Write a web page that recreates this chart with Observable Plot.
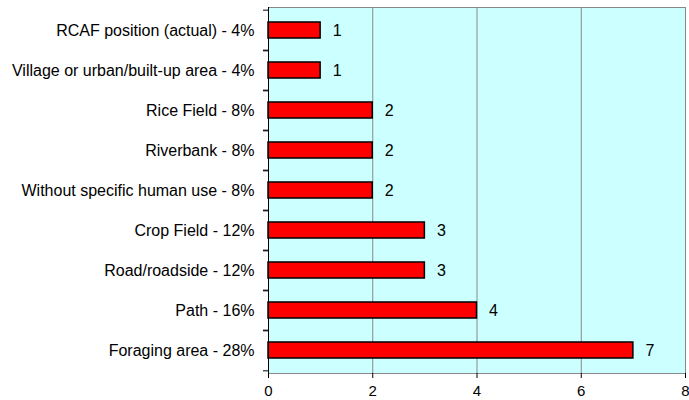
<!DOCTYPE html>
<html>
<head>
<meta charset="utf-8">
<script src="https://cdn.jsdelivr.net/npm/d3@7"></script>
<script src="https://cdn.jsdelivr.net/npm/@observablehq/plot@0.6"></script>
<style>
  html, body { margin: 0; padding: 0; background: #ffffff; }
  #chart { width: 689px; height: 400px; }
</style>
</head>
<body>
<div id="chart"></div>
<script>
const categories = [
  "RCAF position (actual) - 4%",
  "Village or urban/built-up area - 4%",
  "Rice Field - 8%",
  "Riverbank - 8%",
  "Without specific human use - 8%",
  "Crop Field - 12%",
  "Road/roadside - 12%",
  "Path - 16%",
  "Foraging area - 28%"
];
const values = [1, 1, 2, 2, 2, 3, 3, 4, 7];
const xTicks = [0, 2, 4, 6, 8];
const gridValues = [2, 4, 6];

const data = categories.map((c, i) => ({label: c, value: values[i]}));

const W = 689, H = 400;
const mTop = 7, mBottom = 27, mLeft = 268, mRight = 4;
const step = (H - mTop - mBottom) / categories.length;

const chart = Plot.plot({
  width: W,
  height: H,
  marginTop: mTop,
  marginBottom: mBottom,
  marginLeft: mLeft,
  marginRight: mRight,
  style: {fontFamily: "Liberation Sans, Arial, sans-serif", fontSize: "16px", color: "#000", background: "#fff", overflow: "visible"},
  x: {domain: [0, 8], ticks: xTicks, label: null},
  y: {domain: categories, paddingInner: 0.6, paddingOuter: 0.3, tickSize: 0, tickPadding: 14, label: null, line: true},
  marks: [
    Plot.frame({fill: "#ccffff", stroke: "#888888"}),
    Plot.ruleX(gridValues, {stroke: "#888888", strokeWidth: 1}),
    Plot.ruleY(categories, {y: d => d, x1: 0, x2: 0, insetLeft: -5, dy: -step / 2, stroke: "#000"}),
    Plot.ruleY(categories, {y: d => d, x1: 0, x2: 0, insetLeft: -5, dy: step / 2, stroke: "#000"}),
    Plot.barX(data, {x: "value", y: "label", fill: "#ff0000", stroke: "#000", strokeWidth: 1.5}),
    Plot.text(data, {x: "value", y: "label", text: d => String(d.value), dx: 12, textAnchor: "start", fontSize: 16, fill: "#000"}),
    Plot.ruleX([0], {stroke: "#000"}),
    Plot.axisX({ticks: xTicks, tickSize: 5, tickPadding: 7, fontSize: 15, label: null, line: true, stroke: "#000"})
  ]
});
document.getElementById("chart").appendChild(chart);
</script>
</body>
</html>
